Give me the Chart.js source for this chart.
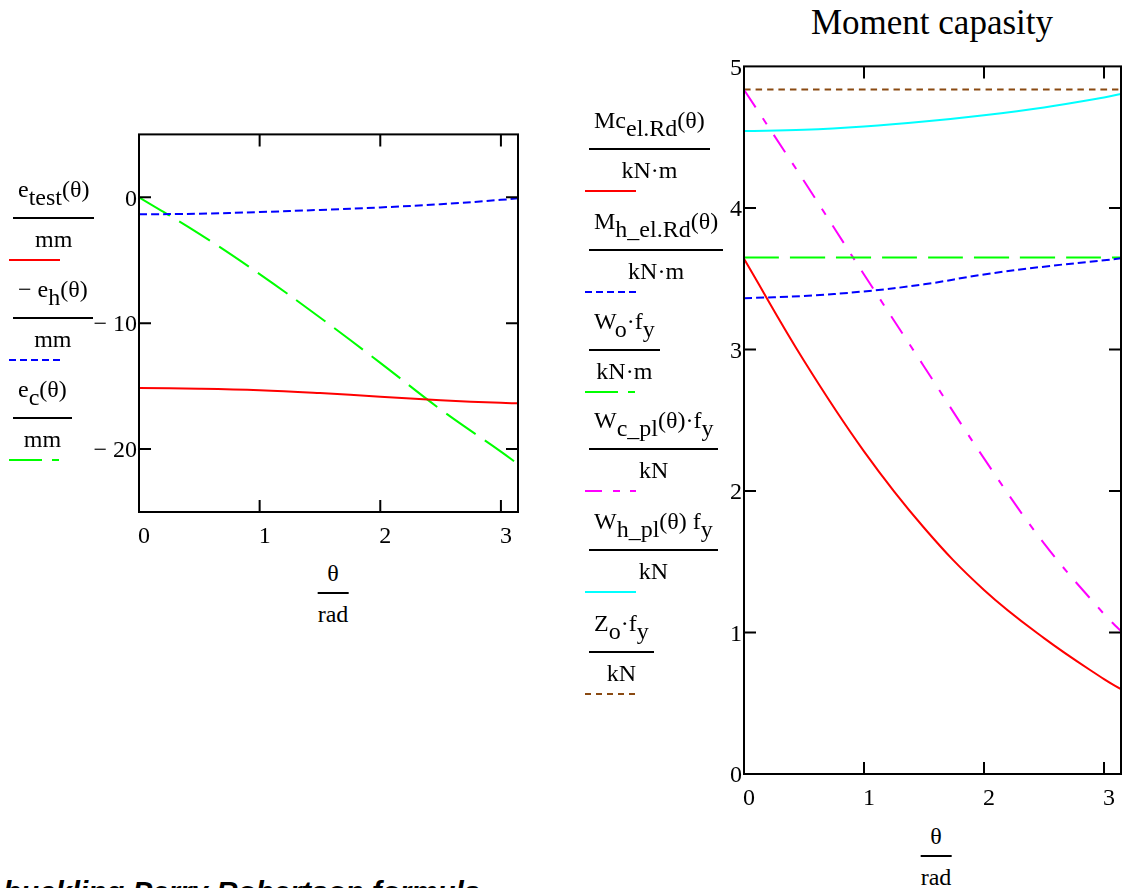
<!DOCTYPE html>
<html>
<head>
<meta charset="utf-8">
<script src="https://cdn.jsdelivr.net/npm/chart.js@4"></script>
<style>
  html, body { margin: 0; padding: 0; background: #fff; }
  body {
    width: 1122px; height: 888px; position: relative; overflow: hidden;
    font-family: "Liberation Serif", "Times New Roman", serif; font-size: 24px; color: #000;
  }
  canvas { position: absolute; }
  .frac { position: absolute; white-space: nowrap; }
  .frac .num { line-height: 26px; padding: 0 5px 15px; border-bottom: 2px solid #000; }
  .frac .den { line-height: 26px; margin-top: 7px; text-align: center; }
  .frac.axt { transform: translateX(-50%); }
  .frac.axt .num { padding: 0 4px 6px; text-align: center; }
  .s { position: relative; top: 8px; }
  .key { position: absolute; line-height: 0; }
  .key svg { display: block; }
  #title { position: absolute; top: 3px; left: 932px; transform: translateX(-50%);
    font-size: 35px; line-height: 40px; white-space: nowrap; }
  #note { position: absolute; left: 3px; top: 877px; font-family: "Liberation Sans", Arial, sans-serif;
    font-weight: bold; font-style: italic; font-size: 29.5px; line-height: 30px; white-space: nowrap; }
</style>
</head>
<body>
<canvas id="ecc" width="468" height="440" style="left:60px; top:118px;"></canvas>
<canvas id="mom" width="442" height="770" style="left:680px; top:50px;"></canvas>
<div id="title">Moment capasity</div>
<div id="note">buckling Perry Robertson formula</div>

<script>
// theta in rad
const theta = [0, 0.5, 1, 1.5, 2, 2.5, 3, Math.PI];
const thetaTicks = [0, 1, 2, 3];

// eccentricities, mm
const eTest = [-15.15, -15.2, -15.32, -15.55, -15.84, -16.12, -16.33, -16.36];
const eHneg = [-1.35, -1.3, -1.17, -1.0, -0.8, -0.55, -0.2, -0.08];
const eC = [0, -2.9, -6.1, -9.55, -13.15, -16.85, -20.2, -21.2];
const eTicks = [-20, -10, 0];

// moment capacities, kN*m
const mcElRd = [3.64, 2.92, 2.28, 1.74, 1.30, 0.96, 0.67, 0.60];
const mhElRd = [3.362, 3.378, 3.41, 3.46, 3.53, 3.585, 3.63, 3.644];
const woFy = 3.65;
const wcPlFy = [4.835, 4.19, 3.53, 2.88, 2.23, 1.63, 1.13, 1.01];
const whPlFy = [4.543, 4.552, 4.575, 4.61, 4.655, 4.71, 4.78, 4.805];
const zoFy = 4.837;
const mTicks = [0, 1, 2, 3, 4, 5];

const pts = ys => theta.map((t, i) => ({ x: t, y: Array.isArray(ys) ? ys[i] : ys }));

const RED = '#ff0000', BLUE = '#0000ff', GREEN = '#00ff00',
      MAGENTA = '#ff00ff', CYAN = '#00ffff', BROWN = '#8a4a12';

// frame with inward tick marks on all four sides
const frame = {
  id: 'frame',
  afterDatasetsDraw(chart) {
    const { ctx, chartArea: a, scales: { x, y } } = chart;
    ctx.save();
    ctx.strokeStyle = '#000';
    ctx.lineWidth = 2;
    ctx.strokeRect(a.left, a.top, a.right - a.left, a.bottom - a.top);
    ctx.beginPath();
    x.ticks.forEach(t => {
      const px = x.getPixelForValue(t.value);
      if (px < a.left + 2 || px > a.right - 2) return;
      ctx.moveTo(px, a.bottom); ctx.lineTo(px, a.bottom - 12);
      ctx.moveTo(px, a.top); ctx.lineTo(px, a.top + 12);
    });
    y.ticks.forEach(t => {
      const py = y.getPixelForValue(t.value);
      if (py < a.top + 2 || py > a.bottom - 2) return;
      ctx.moveTo(a.left, py); ctx.lineTo(a.left + 12, py);
      ctx.moveTo(a.right, py); ctx.lineTo(a.right - 12, py);
    });
    ctx.stroke();
    ctx.restore();
  }
};

const tickFont = { family: 'Liberation Serif', size: 24 };

function makeChart(id, datasets, yMin, yMax, yTicks, yWidth, padRight) {
  return new Chart(document.getElementById(id), {
    type: 'line',
    data: { datasets },
    plugins: [frame],
    options: {
      responsive: false,
      animation: false,
      layout: { padding: { left: 0, right: padRight, top: 10, bottom: 10 } },
      plugins: { legend: { display: false }, tooltip: { enabled: false } },
      elements: {
        point: { radius: 0 },
        line: { borderWidth: 2, tension: 0.4 }
      },
      scales: {
        x: {
          type: 'linear', min: 0, max: Math.PI,
          border: { display: false },
          grid: { display: false, drawTicks: false },
          afterBuildTicks: s => { s.ticks = thetaTicks.map(v => ({ value: v })); },
          afterFit: s => { s.height = 36; },
          ticks: { padding: 10, labelOffset: 5, color: '#000', font: tickFont, autoSkip: false, maxRotation: 0 }
        },
        y: {
          type: 'linear', min: yMin, max: yMax,
          border: { display: false },
          grid: { display: false, drawTicks: false },
          afterBuildTicks: s => { s.ticks = yTicks.map(v => ({ value: v })); },
          afterFit: s => { s.width = yWidth; },
          ticks: {
            padding: 2, labelOffset: 2, color: '#000', font: tickFont, autoSkip: false,
            callback: v => v < 0 ? '\u2212 ' + (-v) : String(v)
          }
        }
      }
    }
  });
}

const eccSeries = [
  { data: pts(eTest), borderColor: RED, key: [],
    num: 'e<span class="s">test</span>(θ)', den: 'mm' },
  { data: pts(eHneg), borderColor: BLUE, borderDash: [8, 4], key: [7, 4],
    num: '\u2212 e<span class="s">h</span>(θ)', den: 'mm' },
  { data: pts(eC), borderColor: GREEN, borderDash: [36, 11], key: [33, 10, 7, 50],
    num: 'e<span class="s">c</span>(θ)', den: 'mm' }
];

const momSeries = [
  { data: pts(mcElRd), borderColor: RED, key: [],
    num: 'Mc<span class="s">el.Rd</span>(θ)', den: 'kN·m' },
  { data: pts(mhElRd), borderColor: BLUE, borderDash: [8, 4], key: [7, 4],
    num: 'M<span class="s">h_el.Rd</span>(θ)', den: 'kN·m' },
  { data: pts(woFy), borderColor: GREEN, borderDash: [35, 11], key: [33, 10, 7, 50],
    num: 'W<span class="s">o</span>·f<span class="s">y</span>', den: 'kN·m' },
  { data: pts(wcPlFy), borderColor: MAGENTA, borderDash: [21, 13, 7, 13], key: [17, 11, 7, 10],
    num: 'W<span class="s">c_pl</span>(θ)·f<span class="s">y</span>', den: 'kN' },
  { data: pts(whPlFy), borderColor: CYAN, key: [],
    num: 'W<span class="s">h_pl</span>(θ) f<span class="s">y</span>', den: 'kN' },
  { data: pts(zoFy), borderColor: BROWN, borderDash: [6.5, 5], key: [6, 5],
    num: 'Z<span class="s">o</span>·f<span class="s">y</span>', den: 'kN' }
];

makeChart('ecc', eccSeries, -25, 5, eTicks, 79, 10);
makeChart('mom', momSeries, 0, 5, mTicks, 64, 1);

// stacked fraction legends with a line sample under each entry
function legend(series, left, bars) {
  series.forEach((s, i) => {
    const bar = bars[i];
    const f = document.createElement('div');
    f.className = 'frac';
    f.style.left = left + 'px';
    f.style.top = (bar - 42) + 'px';
    f.innerHTML = '<div class="num">' + s.num + '</div><div class="den">' + s.den + '</div>';
    document.body.appendChild(f);

    const k = document.createElement('div');
    k.className = 'key';
    k.style.left = (left - 4) + 'px';
    k.style.top = (bar + 40) + 'px';
    const dash = s.key.length ? ' stroke-dasharray="' + s.key.join(' ') + '"' : '';
    k.innerHTML = '<svg width="52" height="4"><line x1="0" y1="2" x2="51" y2="2" stroke="' +
      s.borderColor + '" stroke-width="2"' + dash + '/></svg>';
    document.body.appendChild(k);
  });
}
legend(eccSeries, 13, [218, 318, 418]);
legend(momSeries, 589, [149, 250, 350, 449, 550, 652]);

// axis titles
function axisTitle(cx, bar) {
  const f = document.createElement('div');
  f.className = 'frac axt';
  f.style.left = cx + 'px';
  f.style.top = (bar - 33) + 'px';
  f.innerHTML = '<div class="num">θ</div><div class="den">rad</div>';
  document.body.appendChild(f);
}
axisTitle(333, 593);
axisTitle(936, 856);
</script>
</body>
</html>
